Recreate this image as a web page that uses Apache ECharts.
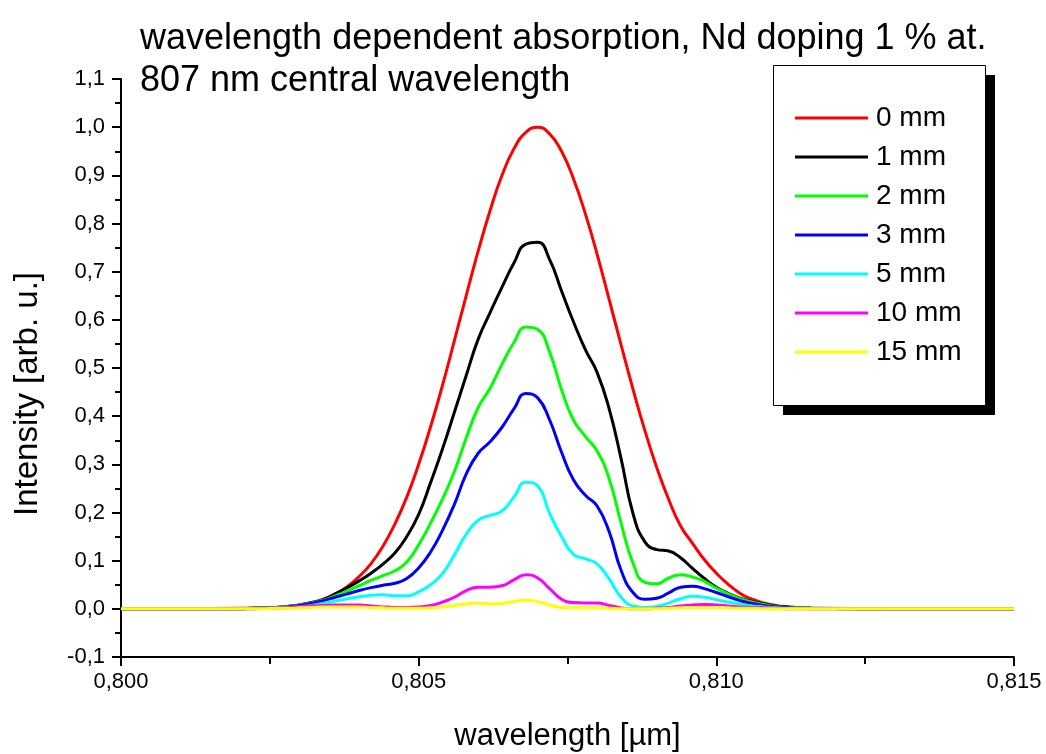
<!DOCTYPE html>
<html>
<head>
<meta charset="utf-8">
<script src="https://cdn.jsdelivr.net/npm/echarts@6/dist/echarts.min.js"></script>
<style>
  html, body { margin: 0; padding: 0; background: #fff; }
  #chart { width: 1046px; height: 754px; }
</style>
</head>
<body>
<div id="chart"></div>
<script>
// wavelength in µm
const wavelengths = [
  0.8000, 0.8010,
  0.8020, 0.8022, 0.8024, 0.8026, 0.8028, 0.8030, 0.8032, 0.8034, 0.8036, 0.8038,
  0.8040, 0.8042, 0.8044, 0.8046, 0.8048, 0.8050, 0.8052, 0.8054, 0.8056, 0.8058,
  0.8060, 0.8062, 0.8064, 0.8066, 0.8068, 0.8070, 0.8072, 0.8074, 0.8076, 0.8078,
  0.8080, 0.8082, 0.8084, 0.8086, 0.8088, 0.8090, 0.8092, 0.8094, 0.8096, 0.8098,
  0.8100, 0.8102, 0.8104, 0.8106, 0.8108, 0.8110, 0.8112, 0.8114, 0.8116,
  0.8130, 0.8150
];

const seriesNames = ['0 mm', '1 mm', '2 mm', '3 mm', '5 mm', '10 mm', '15 mm'];
const seriesColors = ['#ff0000', '#000000', '#00ff00', '#0000ff', '#00ffff', '#ff00ff', '#ffff00'];

const mm0 = [
  0, 0,
  0.001, 0.001, 0.002, 0.003, 0.005, 0.008, 0.013, 0.020, 0.031, 0.046,
  0.067, 0.094, 0.130, 0.176, 0.232, 0.300, 0.378, 0.464, 0.557, 0.651,
  0.743, 0.827, 0.900, 0.955, 0.989, 1.000, 0.986, 0.950, 0.893, 0.820,
  0.735, 0.642, 0.548, 0.456, 0.370, 0.293, 0.227, 0.172, 0.136, 0.102,
  0.074, 0.051, 0.032, 0.020, 0.012, 0.007, 0.004, 0.002, 0.001,
  0, 0
];
const mm1 = [
  0, 0,
  0.000, 0.001, 0.002, 0.003, 0.005, 0.008, 0.013, 0.019, 0.031, 0.044,
  0.058, 0.074, 0.093, 0.116, 0.150, 0.196, 0.262, 0.332, 0.408, 0.485,
  0.560, 0.615, 0.668, 0.718, 0.757, 0.761, 0.725, 0.660, 0.596, 0.538,
  0.490, 0.415, 0.312, 0.198, 0.139, 0.123, 0.120, 0.106, 0.084, 0.063,
  0.045, 0.032, 0.022, 0.015, 0.010, 0.006, 0.004, 0.002, 0.001,
  0, 0
];
const mm2 = [
  0, 0,
  0.000, 0.001, 0.002, 0.003, 0.005, 0.008, 0.012, 0.018, 0.027, 0.037,
  0.048, 0.059, 0.069, 0.079, 0.097, 0.133, 0.178, 0.228, 0.285, 0.355,
  0.418, 0.458, 0.508, 0.553, 0.585, 0.580, 0.533, 0.455, 0.392, 0.358,
  0.327, 0.270, 0.178, 0.095, 0.055, 0.052, 0.064, 0.071, 0.066, 0.057,
  0.043, 0.031, 0.021, 0.014, 0.009, 0.005, 0.003, 0.002, 0.001,
  0, 0
];
const mm3 = [
  0, 0,
  0.000, 0.001, 0.001, 0.002, 0.004, 0.007, 0.011, 0.017, 0.024, 0.031,
  0.038, 0.044, 0.049, 0.053, 0.063, 0.085, 0.118, 0.163, 0.217, 0.280,
  0.323, 0.347, 0.377, 0.415, 0.447, 0.438, 0.392, 0.325, 0.268, 0.236,
  0.213, 0.160, 0.080, 0.034, 0.020, 0.022, 0.033, 0.045, 0.047, 0.042,
  0.034, 0.025, 0.017, 0.011, 0.007, 0.004, 0.003, 0.001, 0.001,
  0, 0
];
const mm5 = [
  0, 0,
  0.000, 0.000, 0.001, 0.001, 0.002, 0.004, 0.007, 0.011, 0.016, 0.021,
  0.025, 0.028, 0.029, 0.027, 0.027, 0.035, 0.050, 0.073, 0.112, 0.155,
  0.184, 0.194, 0.203, 0.232, 0.263, 0.255, 0.198, 0.150, 0.113, 0.104,
  0.093, 0.062, 0.024, 0.006, 0.003, 0.005, 0.012, 0.021, 0.026, 0.024,
  0.019, 0.014, 0.010, 0.006, 0.004, 0.002, 0.001, 0.001, 0.000,
  0, 0
];
const mm10 = [
  0, 0,
  0.000, 0.000, 0.001, 0.002, 0.003, 0.005, 0.006, 0.007, 0.008, 0.008,
  0.008, 0.006, 0.004, 0.003, 0.003, 0.004, 0.007, 0.014, 0.024, 0.038,
  0.045, 0.045, 0.048, 0.060, 0.071, 0.064, 0.042, 0.020, 0.013, 0.012,
  0.012, 0.007, 0.002, 0.000, 0.000, 0.001, 0.003, 0.006, 0.008, 0.009,
  0.008, 0.006, 0.004, 0.003, 0.002, 0.001, 0.000, 0.000, 0.000,
  0, 0
];
const mm15 = [
  0, 0,
  0.000, 0.000, 0.000, 0.001, 0.001, 0.002, 0.003, 0.004, 0.004, 0.004,
  0.004, 0.003, 0.002, 0.001, 0.001, 0.001, 0.002, 0.004, 0.007, 0.010,
  0.012, 0.010, 0.011, 0.015, 0.018, 0.015, 0.008, 0.003, 0.002, 0.002,
  0.002, 0.001, 0.000, 0.000, 0.000, 0.000, 0.001, 0.002, 0.003, 0.003,
  0.003, 0.002, 0.001, 0.001, 0.000, 0.000, 0.000, 0.000, 0.000,
  0, 0
];

const allValues = [mm0, mm1, mm2, mm3, mm5, mm10, mm15];

const fontFamily = '"Liberation Sans", Arial, sans-serif';
const comma = (v, digits) => v.toFixed(digits).replace('.', ',');

const chart = echarts.init(document.getElementById('chart'), null, { renderer: 'canvas' });

const option = {
  backgroundColor: '#ffffff',
  animation: false,
  textStyle: { fontFamily: fontFamily, color: '#000' },
  title: {
    text: 'wavelength dependent absorption, Nd doping 1 % at.\n807 nm central wavelength',
    left: 140,
    top: 18,
    padding: 0,
    textStyle: {
      fontFamily: fontFamily,
      fontSize: 36,
      fontWeight: 'normal',
      color: '#000',
      lineHeight: 42
    }
  },
  grid: { left: 121, right: 32, top: 79, bottom: 97, containLabel: false, outerBoundsMode: 'none' },
  // legend frame with its drop shadow
  graphic: [
    { type: 'rect', shape: { x: 783, y: 75, width: 212, height: 340 }, style: { fill: '#000' }, z: 10 },
    { type: 'rect', shape: { x: 773.5, y: 65.5, width: 212, height: 340 }, style: { fill: '#fff', stroke: '#000', lineWidth: 1 }, z: 11 }
  ],
  legend: {
    left: 773,
    top: 65,
    orient: 'vertical',
    data: seriesNames,
    icon: 'rect',
    itemWidth: 73,
    itemHeight: 3,
    itemGap: 11,
    padding: [39, 22, 37, 22],
    z: 20,
    textStyle: { fontFamily: fontFamily, fontSize: 28, color: '#000', lineHeight: 28, padding: [0, 0, 0, 3] }
  },
  xAxis: {
    type: 'value',
    min: 0.800,
    max: 0.815,
    interval: 0.005,
    name: 'wavelength [µm]',
    nameLocation: 'middle',
    nameGap: 64,
    nameTextStyle: { fontFamily: fontFamily, fontSize: 31, color: '#000' },
    axisLine: { show: true, onZero: false, lineStyle: { color: '#000', width: 2 } },
    axisTick: { show: true, inside: false, length: 9, lineStyle: { color: '#000', width: 2 } },
    minorTick: { show: true, splitNumber: 2, length: 7, lineStyle: { color: '#000', width: 2 } },
    splitLine: { show: false },
    axisLabel: {
      margin: 14,
      fontFamily: fontFamily,
      fontSize: 22,
      color: '#000',
      formatter: (v) => comma(v, 3)
    }
  },
  yAxis: {
    type: 'value',
    min: -0.1,
    max: 1.1,
    interval: 0.1,
    name: 'Intensity [arb. u.]',
    nameLocation: 'middle',
    nameGap: 77,
    nameRotate: 90,
    nameTextStyle: { fontFamily: fontFamily, fontSize: 33, color: '#000', padding: [0, 52, 0, 0] },
    axisLine: { show: true, onZero: false, lineStyle: { color: '#000', width: 2 } },
    axisTick: { show: true, inside: false, length: 9, lineStyle: { color: '#000', width: 2 } },
    minorTick: { show: true, splitNumber: 2, length: 6, lineStyle: { color: '#000', width: 2 } },
    splitLine: { show: false },
    axisLabel: {
      margin: 16,
      fontFamily: fontFamily,
      fontSize: 22,
      color: '#000',
      formatter: (v) => comma(v, 1)
    }
  },
  series: seriesNames.map((name, i) => ({
    name: name,
    type: 'line',
    data: wavelengths.map((w, j) => [w, allValues[i][j]]),
    symbol: 'none',
    smooth: 0.5,
    color: seriesColors[i],
    lineStyle: { color: seriesColors[i], width: 3 },
    z: 2 + i
  }))
};

chart.setOption(option);
</script>
</body>
</html>
